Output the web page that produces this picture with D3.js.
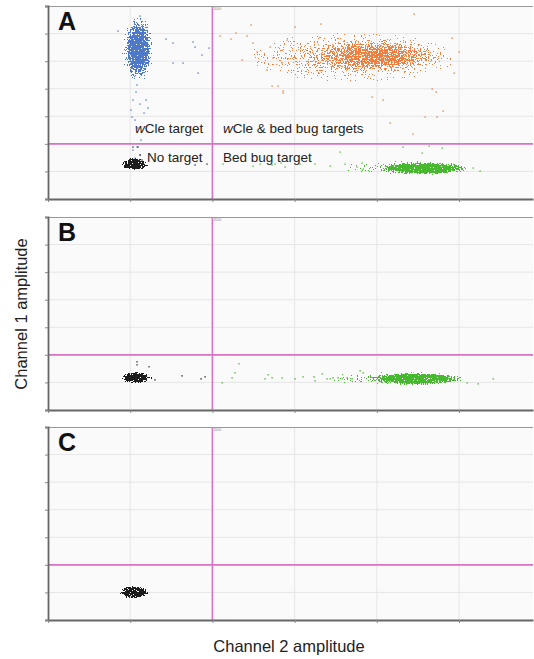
<!DOCTYPE html>
<html>
<head>
<meta charset="utf-8">
<script src="https://cdn.jsdelivr.net/npm/d3@7"></script>
<style>
  body { margin: 0; background: #fff; }
  svg { display: block; font-family: "Liberation Sans", Arial, sans-serif; }
</style>
</head>
<body>
<div id="chart"></div>
<script>
const panels = ["A", "B", "C"];
const xTicks = [0, 1000, 2000, 3000, 4000, 5000];
const yTicks = [0, 1000, 2000, 3000, 4000, 5000, 6000, 7000];
const thresholdX = 2000;
const thresholdY = 2000;

// droplet cluster bodies (amplitude units): centre, spread, peak density
const clusters = [
  { panel: "A", group: "wcle", cx: 1100, cy: 5450, rx: 180, ry: 1200, peak: 1.4 },
  { panel: "A", group: "wcle", cx: 1100, cy: 5400, rx: 250, ry: 1400, peak: 0.3 },
  { panel: "A", group: "none", cx: 1050, cy: 1265, rx: 165, ry: 230, peak: 2.5 },
  { panel: "A", group: "none", cx: 1080, cy: 1265, rx: 215, ry: 290, peak: 0.3 },
  { panel: "A", group: "both", cx: 3700, cy: 5150, rx: 1500, ry: 1050, peak: 0.42 },
  { panel: "A", group: "both", cx: 4000, cy: 5200, rx: 850, ry: 600, peak: 0.7 },
  { panel: "A", group: "bedbug", cx: 4570, cy: 1110, rx: 580, ry: 235, peak: 2 },
  { panel: "A", group: "bedbug", cx: 4300, cy: 1140, rx: 950, ry: 300, peak: 0.3 },
  { panel: "B", group: "none", cx: 1070, cy: 1170, rx: 175, ry: 220, peak: 2.5 },
  { panel: "B", group: "none", cx: 1090, cy: 1170, rx: 230, ry: 280, peak: 0.3 },
  { panel: "B", group: "bedbug", cx: 4480, cy: 1130, rx: 590, ry: 235, peak: 2 },
  { panel: "B", group: "bedbug", cx: 4200, cy: 1150, rx: 1000, ry: 310, peak: 0.3 },
  { panel: "C", group: "none", cx: 1046, cy: 1010, rx: 180, ry: 240, peak: 2.5 },
  { panel: "C", group: "none", cx: 1060, cy: 1010, rx: 235, ry: 290, peak: 0.3 },
];

// stray droplets, [channel 2, channel 1]
const wcleStrayA = [
  [852, 6093], [1120, 6637], [1083, 4135], [1071, 3881], [1034, 3591], [1120, 3446],
  [1010, 3228], [1193, 3591], [1168, 3119], [1217, 3301], [1059, 2865], [1095, 2575],
  [1022, 2974], [1132, 2140], [1083, 1886], [1034, 1777], [1120, 1596], [1059, 1487],
  [1436, 5803], [1521, 5658], [1765, 5694], [1789, 5513], [1874, 5223], [1643, 4933],
  [1521, 4933], [1826, 4570], [1960, 5477],
];
const bothStrayA = [
  [2471, 6311], [2288, 6021], [2093, 5912], [2227, 5803], [2422, 5912], [2544, 5332],
  [2361, 5041], [2665, 4679], [2726, 4099], [2860, 3845], [2799, 4099], [2702, 5513],
  [2495, 5658], [2909, 5767], [2738, 5114], [2848, 4933], [3943, 3700], [4077, 3591],
  [4588, 2974], [4673, 3990], [4722, 3881], [4807, 3192], [4734, 2974], [4162, 2757],
  [4442, 2358], [4454, 6710], [3322, 6347], [3006, 6238], [5002, 5332], [4917, 5839],
  [4941, 4570], [2860, 3917],
];
const bedbugStrayA = [
  [2130, 1269], [2495, 1197], [2580, 1269], [2726, 1233], [2763, 1269], [2884, 1161],
  [3249, 1269], [3432, 1197], [3554, 1705], [3614, 1269], [3760, 1161], [3821, 1306],
  [4320, 1886], [4552, 1668], [4637, 1922], [4795, 1850], [5257, 1016], [5172, 1124],
  [2836, 1306], [3067, 1269], [3834, 1088],
];
const noneStrayA = [
  [1034, 1886], [1095, 1886], [1120, 1596], [1144, 1415], [1789, 1233], [1935, 1269],
];
const noneStrayB = [
  [1083, 1750], [1083, 1641], [1229, 1568], [1302, 1094], [1631, 1240], [1862, 1130], [1911, 1203],
];
const bedbugStrayB = [
  [2324, 1677], [2276, 1349], [2239, 1167], [2118, 984], [2641, 1130], [2677, 1276],
  [2726, 1167], [2848, 1167], [3006, 1130], [3103, 1203], [3237, 1203], [3249, 1057],
  [3335, 1313], [3395, 1130], [3432, 1130], [3468, 1167], [3529, 1167], [3578, 1130],
  [3639, 1167], [3700, 1130], [3797, 1422], [3834, 1349], [5099, 984], [5233, 948], [5416, 1130],
];
const strays = [
  { panel: "A", group: "wcle", pts: wcleStrayA },
  { panel: "A", group: "both", pts: bothStrayA },
  { panel: "A", group: "bedbug", pts: bedbugStrayA },
  { panel: "A", group: "none", pts: noneStrayA },
  { panel: "B", group: "none", pts: noneStrayB },
  { panel: "B", group: "bedbug", pts: bedbugStrayB },
];

// quadrant labels of panel A
const quadLabels = [
  { italic: "w", text: "Cle target", x: 1059, y: 2394 },
  { italic: "w", text: "Cle & bed bug targets", x: 2130, y: 2394 },
  { italic: "", text: "No target", x: 1205, y: 1342 },
  { italic: "", text: "Bed bug target", x: 2130, y: 1342 },
];

const colors = { wcle: "#3b6bc2", both: "#ec6a1e", bedbug: "#3db524", none: "#1c1c1c" };
const dotOpacity = { wcle: 0.9, both: 0.85, bedbug: 0.95, none: 1 };

const width = 534;
const height = 659;
const panelTop = [6, 217, 427];
const panelH = 193;

const svg = d3
  .select("#chart")
  .append("svg")
  .attr("width", width)
  .attr("height", height)
  .attr("viewBox", [0, 0, width, height]);

const defs = svg.append("defs");

// speckle filter: turns a soft density shape into scattered droplet dots
Object.entries(colors).forEach(([key, col]) => {
  const f = defs
    .append("filter")
    .attr("id", "speck-" + key)
    .attr("x", "-20%")
    .attr("y", "-20%")
    .attr("width", "140%")
    .attr("height", "140%")
    .attr("color-interpolation-filters", "sRGB");
  f.append("feTurbulence")
    .attr("type", "fractalNoise")
    .attr("baseFrequency", 0.7)
    .attr("numOctaves", 2)
    .attr("seed", 7)
    .attr("result", "noise");
  f.append("feComponentTransfer")
    .attr("in", "noise")
    .attr("result", "noise2")
    .append("feFuncA")
    .attr("type", "linear")
    .attr("slope", 2.2)
    .attr("intercept", -0.6);
  // dot where density > noise + 0.08
  f.append("feComposite")
    .attr("in", "SourceAlpha")
    .attr("in2", "noise2")
    .attr("operator", "arithmetic")
    .attr("k1", 0)
    .attr("k2", 1)
    .attr("k3", -1)
    .attr("k4", 0.42)
    .attr("result", "diff");
  f.append("feComponentTransfer")
    .attr("in", "diff")
    .attr("result", "mask")
    .append("feFuncA")
    .attr("type", "discrete")
    .attr("tableValues", "0 1");
  f.append("feFlood")
    .attr("flood-color", col)
    .attr("flood-opacity", dotOpacity[key])
    .attr("result", "fill");
  f.append("feComposite").attr("in", "fill").attr("in2", "mask").attr("operator", "in");
});

clusters.forEach((c, i) => {
  const g = defs.append("radialGradient").attr("id", "dens-" + i);
  [[0, 1], [0.35, 0.9], [0.6, 0.55], [0.85, 0.18], [1, 0]].forEach(([o, a]) =>
    g.append("stop").attr("offset", o).attr("stop-color", "#000")
      .attr("stop-opacity", Math.min(1, a * c.peak))
  );
});

const x = d3.scaleLinear().domain([0, 5900]).range([48, 533]);

panels.forEach((p, pi) => {
  const top = panelTop[pi];
  const bottom = top + panelH;
  const y = d3.scaleLinear().domain([0, 7000]).range([bottom, top]);
  const panel = svg.append("g");

  defs.append("clipPath").attr("id", "clip-" + p)
    .append("rect").attr("x", x(0)).attr("y", top).attr("width", x(5900) - x(0)).attr("height", panelH);

  panel.append("rect")
    .attr("x", x(0)).attr("y", top)
    .attr("width", x(5900) - x(0)).attr("height", panelH)
    .attr("fill", "#fafafa");

  // grid
  panel.append("g")
    .selectAll("line")
    .data(xTicks.slice(1))
    .join("line")
    .attr("x1", (d) => x(d)).attr("x2", (d) => x(d))
    .attr("y1", top).attr("y2", bottom)
    .attr("stroke", "#e6e6e6");
  panel.append("g")
    .selectAll("line")
    .data(yTicks.slice(1, -1))
    .join("line")
    .attr("y1", (d) => y(d)).attr("y2", (d) => y(d))
    .attr("x1", x(0)).attr("x2", x(5900))
    .attr("stroke", "#e6e6e6");

  // threshold lines
  panel.append("line")
    .attr("x1", x(thresholdX)).attr("x2", x(thresholdX))
    .attr("y1", top).attr("y2", bottom)
    .attr("stroke", "#d774c6").attr("stroke-width", 1.6);
  panel.append("line")
    .attr("x1", x(0)).attr("x2", x(5900))
    .attr("y1", y(thresholdY)).attr("y2", y(thresholdY))
    .attr("stroke", "#d774c6").attr("stroke-width", 1.6);
  panel.append("text")
    .attr("x", x(thresholdX) + 1).attr("y", top + 3.5)
    .attr("font-size", 3.5).attr("fill", "#888")
    .text("2000");

  const plot = panel.append("g").attr("clip-path", `url(#clip-${p})`);

  Object.keys(colors).forEach((key) => {
    const items = clusters
      .map((c, i) => ({ ...c, i }))
      .filter((c) => c.panel === p && c.group === key);
    if (!items.length) return;
    plot.append("g")
      .attr("filter", `url(#speck-${key})`)
      .selectAll("ellipse")
      .data(items)
      .join("ellipse")
      .attr("cx", (d) => x(d.cx))
      .attr("cy", (d) => y(d.cy))
      .attr("rx", (d) => x(d.rx) - x(0))
      .attr("ry", (d) => y(0) - y(d.ry))
      .attr("fill", (d) => `url(#dens-${d.i})`);
  });

  strays
    .filter((s) => s.panel === p)
    .forEach((s) => {
      plot.append("g")
        .selectAll("circle")
        .data(s.pts)
        .join("circle")
        .attr("cx", (d) => x(d[0]))
        .attr("cy", (d) => y(d[1]))
        .attr("r", 0.85)
        .attr("fill", colors[s.group])
        .attr("fill-opacity", 0.8);
    });

  // frame and ticks
  panel.append("line")
    .attr("x1", x(0)).attr("x2", x(5900))
    .attr("y1", top + 0.5).attr("y2", top + 0.5)
    .attr("stroke", "#999");

  panel.append("g")
    .attr("transform", `translate(${x(0)},0)`)
    .call(d3.axisLeft(y).tickValues(yTicks).tickSize(3).tickFormat(""))
    .call((g) => g.select(".domain").attr("stroke", "#666").attr("stroke-width", 1.8))
    .call((g) => g.selectAll(".tick line").attr("stroke", "#888"));

  panel.append("g")
    .attr("transform", `translate(0,${bottom})`)
    .call(d3.axisBottom(x).tickValues(xTicks).tickSize(3).tickFormat("").tickSizeOuter(0))
    .call((g) => g.select(".domain").attr("stroke", "#666").attr("stroke-width", 1.8))
    .call((g) => g.selectAll(".tick line").attr("stroke", "#888"));

  panel.append("text")
    .attr("x", 58).attr("y", top + 24)
    .attr("font-size", 25).attr("font-weight", "bold").attr("fill", "#111")
    .text(p);

  if (p === "A") {
    quadLabels.forEach((l) => {
      const t = panel.append("text")
        .attr("x", x(l.x)).attr("y", y(l.y))
        .attr("font-size", 13.5).attr("fill", "#222");
      if (l.italic) t.append("tspan").attr("font-style", "italic").text(l.italic);
      t.append("tspan").text(l.text);
    });
  }
});

svg.append("text")
  .attr("x", 289).attr("y", 652)
  .attr("text-anchor", "middle")
  .attr("font-size", 16.5).attr("fill", "#222")
  .text("Channel 2 amplitude");

svg.append("text")
  .attr("transform", "translate(27,314) rotate(-90)")
  .attr("text-anchor", "middle")
  .attr("font-size", 16.5).attr("fill", "#222")
  .text("Channel 1 amplitude");
</script>
</body>
</html>
